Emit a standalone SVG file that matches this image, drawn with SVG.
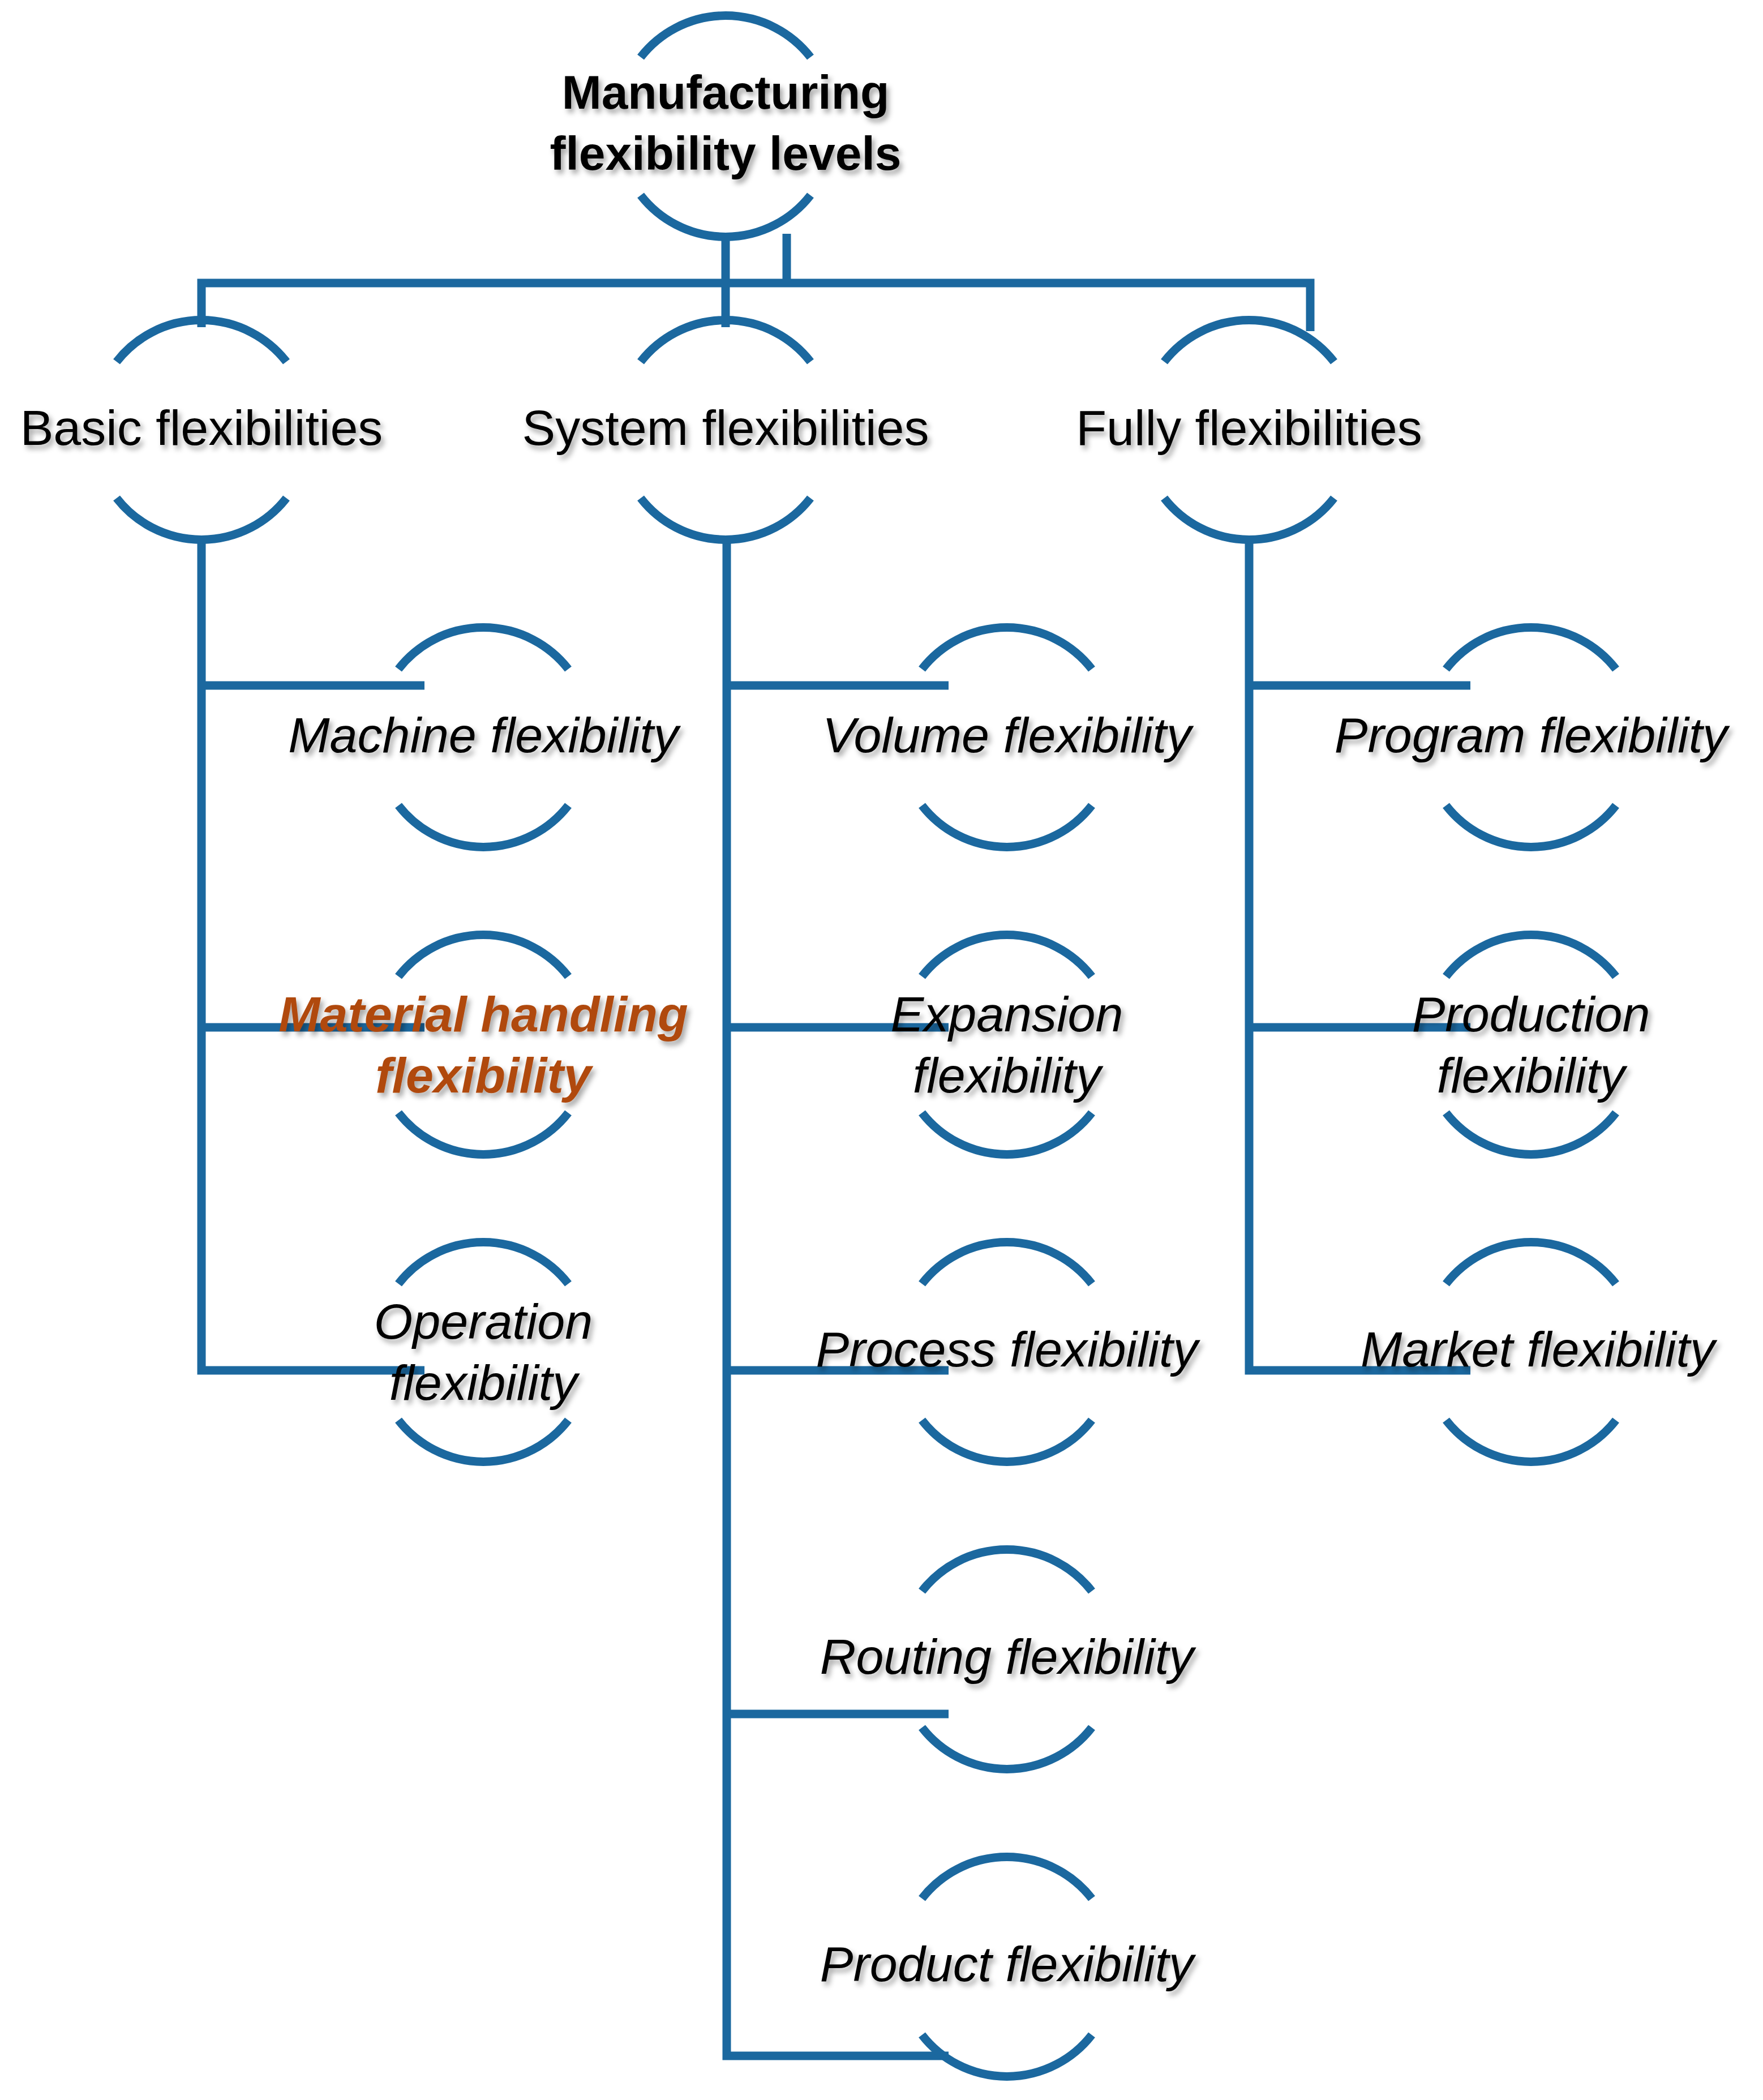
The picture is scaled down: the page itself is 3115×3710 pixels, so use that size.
<svg xmlns="http://www.w3.org/2000/svg" width="3115" height="3710" viewBox="0 0 3115 3710">
<defs>
<filter id="sh" x="-10%" y="-30%" width="120%" height="160%"><feDropShadow dx="5" dy="7" stdDeviation="5" flood-color="#000" flood-opacity="0.35"/></filter>
</defs>
<style>
.a{fill:none;stroke:#1b689f;stroke-width:15}
.c{fill:none;stroke:#1b689f;stroke-width:15;stroke-linejoin:miter}
text{font-family:"Liberation Sans",Arial,sans-serif;text-anchor:middle;fill:#000;filter:url(#sh)}
.t{font-size:84px;font-weight:bold}
.l2{font-size:88px}
.ch{font-size:88px;font-style:italic}
.hl{font-weight:bold;fill:#b0480c}
</style>
<rect width="3115" height="3710" fill="#fff"/>
<g id="connectors">
<path class="c" d="M1282 418V578M356 578V500H2315V585M1390 413V500"/>
<path class="c" d="M356 953V2421H750M356 1211H750M356 1815H750"/>
<path class="c" d="M1284 953V3632H1676M1284 1211H1676M1284 1815H1676M1284 2421H1676M1284 3028H1676"/>
<path class="c" d="M2207 953V2421H2598M2207 1211H2598M2207 1815H2598"/>
</g>
<g id="root"><path class="a" d="M1132 101A190 190 0 0 1 1432 101M1132 345A190 190 0 0 0 1432 345"/><text class="t" x="1282" y="192">Manufacturing</text><text class="t" x="1282" y="300">flexibility levels</text></g>
<g id="basic"><path class="a" d="M206 639A190 190 0 0 1 506 639M206 880A190 190 0 0 0 506 880"/><text class="l2" x="356" y="786">Basic flexibilities</text></g>
<g id="system"><path class="a" d="M1132 639A190 190 0 0 1 1432 639M1132 880A190 190 0 0 0 1432 880"/><text class="l2" x="1282" y="786">System flexibilities</text></g>
<g id="fully"><path class="a" d="M2057 639A190 190 0 0 1 2357 639M2057 880A190 190 0 0 0 2357 880"/><text class="l2" x="2207" y="786">Fully flexibilities</text></g>
<g id="machine"><path class="a" d="M704 1182A190 190 0 0 1 1004 1182M704 1423A190 190 0 0 0 1004 1423"/><text class="ch" x="854" y="1329">Machine flexibility</text></g>
<g id="material"><path class="a" d="M704 1725A190 190 0 0 1 1004 1725M704 1966A190 190 0 0 0 1004 1966"/><text class="ch hl" x="854" y="1822">Material handling</text><text class="ch hl" x="854" y="1930">flexibility</text></g>
<g id="operation"><path class="a" d="M704 2268A190 190 0 0 1 1004 2268M704 2509A190 190 0 0 0 1004 2509"/><text class="ch" x="854" y="2365">Operation</text><text class="ch" x="854" y="2473">flexibility</text></g>
<g id="volume"><path class="a" d="M1629 1182A190 190 0 0 1 1929 1182M1629 1423A190 190 0 0 0 1929 1423"/><text class="ch" x="1779" y="1329">Volume flexibility</text></g>
<g id="expansion"><path class="a" d="M1629 1725A190 190 0 0 1 1929 1725M1629 1966A190 190 0 0 0 1929 1966"/><text class="ch" x="1779" y="1822">Expansion</text><text class="ch" x="1779" y="1930">flexibility</text></g>
<g id="process"><path class="a" d="M1629 2268A190 190 0 0 1 1929 2268M1629 2509A190 190 0 0 0 1929 2509"/><text class="ch" x="1779" y="2414">Process flexibility</text></g>
<g id="routing"><path class="a" d="M1629 2811A190 190 0 0 1 1929 2811M1629 3052A190 190 0 0 0 1929 3052"/><text class="ch" x="1779" y="2957">Routing flexibility</text></g>
<g id="product"><path class="a" d="M1629 3354A190 190 0 0 1 1929 3354M1629 3595A190 190 0 0 0 1929 3595"/><text class="ch" x="1779" y="3500">Product flexibility</text></g>
<g id="program"><path class="a" d="M2555 1182A190 190 0 0 1 2855 1182M2555 1423A190 190 0 0 0 2855 1423"/><text class="ch" x="2705" y="1329">Program flexibility</text></g>
<g id="production"><path class="a" d="M2555 1725A190 190 0 0 1 2855 1725M2555 1966A190 190 0 0 0 2855 1966"/><text class="ch" x="2705" y="1822">Production</text><text class="ch" x="2705" y="1930">flexibility</text></g>
<g id="market"><path class="a" d="M2555 2268A190 190 0 0 1 2855 2268M2555 2509A190 190 0 0 0 2855 2509"/><text class="ch" x="2717" y="2414">Market flexibility</text></g>
</svg>
